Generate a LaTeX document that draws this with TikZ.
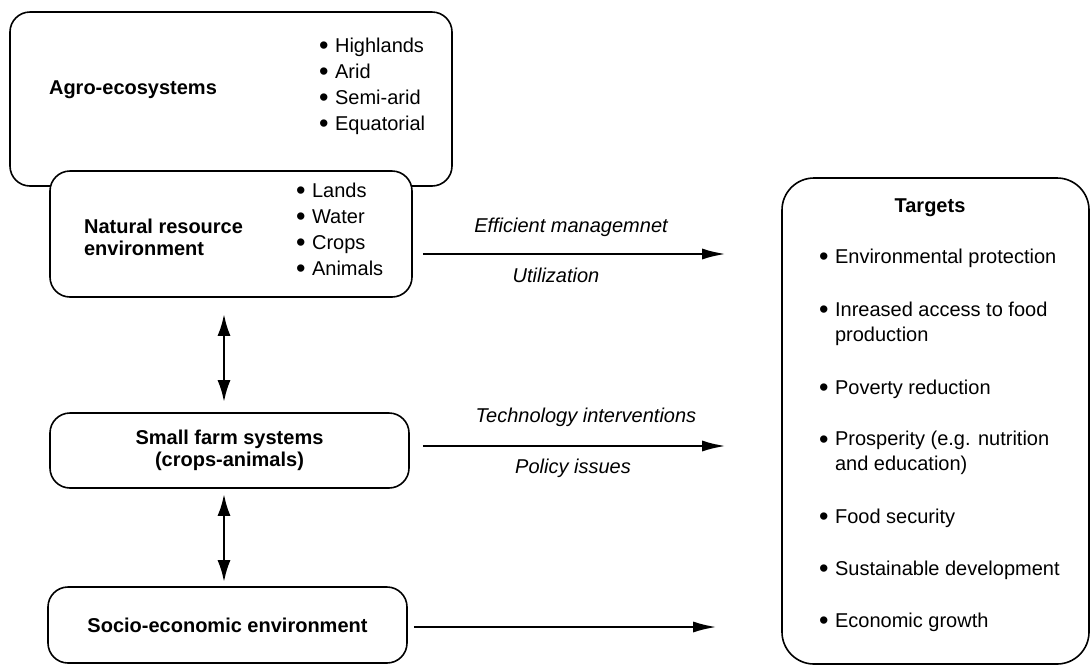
\documentclass[tikz,border=0pt]{standalone}
\usepackage{fontspec}
\setmainfont{Liberation Sans}
\usetikzlibrary{arrows.meta, calc}
\newcommand{\bul}{\makebox[8pt][l]{\raisebox{-0.12em}{\scalebox{1.35}{\textbullet}}}}

\begin{document}
\begin{tikzpicture}[x=0.5pt, y=-0.5pt,
    box/.style={draw, line width=0.8pt, rounded corners=10pt, fill=white},
    flow/.style={-{Latex[length=12pt, width=5.5pt]}, line width=1.4pt},
    both/.style={{Latex[length=11pt, width=6.5pt]}-{Latex[length=11pt, width=6.5pt]}, line width=1.4pt},
    title/.style={font=\fontsize{10}{11}\selectfont\bfseries},
    lbl/.style={font=\fontsize{10}{12}\selectfont\itshape},
    plain/.style={font=\fontsize{10}{13}\selectfont, align=left, anchor=west}]
    \useasboundingbox (0,0) rectangle (1091,666);

    % left column
    \node[box, minimum width=221pt, minimum height=87pt] (agro) at (231,99) {};
    \node[title] (agrot) at (133,90) {Agro-ecosystems};
    \node[plain] (agrol) at (312,86) {\bul Highlands\\\bul Arid\\\bul Semi-arid\\\bul Equatorial};

    \node[box, minimum width=181pt, minimum height=63pt] (nat) at (231,234) {};
    \node[title, align=left, anchor=west] (natt) at (77,237) {Natural resource\\environment};
    \node[plain] (natl) at (289,230) {\bul Lands\\\bul Water\\\bul Crops\\\bul Animals};

    \node[box, title, align=center, minimum width=179.5pt, minimum height=37.5pt] (farm) at (229.5,450.5) {Small farm systems\\(crops-animals)};
    \node[box, title, minimum width=179.5pt, minimum height=38pt] (socio) at (227.5,625) {Socio-economic environment};

    % targets
    \node[box, rounded corners=16pt, minimum width=153.5pt, minimum height=243pt] (tgt) at (935.5,421) {};
    \node[title] (tgtt) at (930,208) {Targets};
    \foreach \y/\t [count=\i] in {258/{Environmental protection},
        323.5/{Inreased access to food\\\hspace*{8pt}production},
        389/{Poverty reduction},
        453/{Prosperity (e.g. nutrition\\\hspace*{8pt}and education)},
        518/{Food security},
        570/{Sustainable development},
        622/{Economic growth}}
      \node[plain, font=\fontsize{10}{12.5}\selectfont] (t\i) at (812,\y) {\bul \t};

    % connectors
    \coordinate (col) at (224,0);
    \draw[both, shorten <=8pt, shorten >=5pt] (nat.south -| col) -- (farm.north -| col);
    \draw[both, shorten <=2.5pt, shorten >=2pt] (farm.south -| col) -- (socio.north -| col);

    \draw[flow, shorten <=5pt, shorten >=27.5pt] (nat.east |- 0,254) -- (tgt.west |- 0,254);
    \draw[flow, shorten <=6.5pt, shorten >=27.5pt] (farm.east |- 0,446) -- (tgt.west |- 0,446);
    \draw[flow, shorten <=3pt, shorten >=32pt] (socio.east |- 0,627) -- (tgt.west |- 0,627);

    \node[lbl] (eff) at (571,227) {Efficient managemnet};
    \node[lbl] (util) at (556,275) {Utilization};
    \node[lbl] (tech) at (586,417) {Technology interventions};
    \node[lbl] (pol) at (573,468) {Policy issues};
\end{tikzpicture}
\end{document}
